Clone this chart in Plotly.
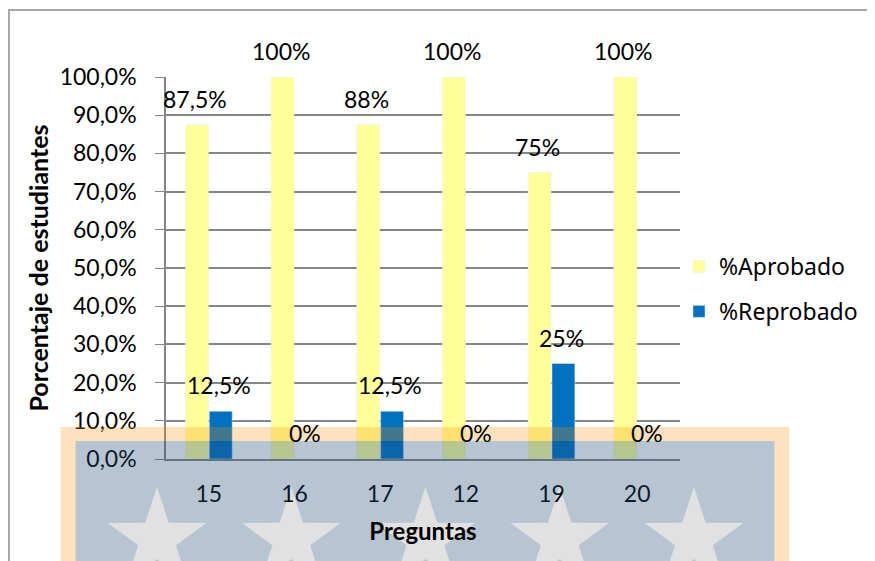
import math
import plotly.graph_objects as go

preguntas = ["15", "16", "17", "12", "19", "20"]
aprobado = [87.5, 100, 87.5, 100, 75, 100]
reprobado = [12.5, 0, 12.5, 0, 25, 0]
etiquetas_aprobado = ["87,5%", "100%", "88%", "100%", "75%", "100%"]
etiquetas_reprobado = ["12,5%", "0%", "12,5%", "0%", "25%", "0%"]

# la pagina html deja 8px de margen, asi que la figura es algo mas chica
OFF = 8
W, H = 875 - OFF, 561 - OFF
L, R, T, B = 166 - OFF, 683 - OFF, 77 - OFF, 459 - OFF  # area del grafico


def px(x, y):
    """pixeles de pantalla -> coordenadas paper"""
    x, y = x - OFF, y - OFF
    return (x - L) / (R - L), (B - y) / (B - T)


def rect_path(x0, y0, x1, y1):
    a, b = px(x0, y0)
    c, d = px(x1, y1)
    return f"M{a},{b} L{c},{b} L{c},{d} L{a},{d} Z "


def star_path(cx, cy, r_out=52, r_in=20):
    pts = []
    for i in range(10):
        r = r_out if i % 2 == 0 else r_in
        ang = -math.pi / 2 + i * math.pi / 5
        pts.append(px(cx + r * math.cos(ang), cy + r * math.sin(ang)))
    return "M" + " L".join(f"{a},{b}" for a, b in pts) + " Z "


fuente = "Lato, Carlito, sans-serif"

fig = go.Figure()
fig.add_trace(go.Bar(
    x=preguntas, y=aprobado, name="%Aprobado",
    marker_color="#FFFF99", legendgroup="a"
))
fig.add_trace(go.Bar(
    x=preguntas, y=reprobado, name="%Reprobado",
    marker_color="#0070C0", legendgroup="b"
))

# etiquetas de datos (x = indice de la categoria)
anots = []
for i in range(len(preguntas)):
    anots.append(dict(x=i, y=aprobado[i], text=etiquetas_aprobado[i], xshift=-14,
                      yshift=26, yanchor="middle", showarrow=False))
    anots.append(dict(x=i, y=reprobado[i], text=etiquetas_reprobado[i], xshift=10,
                      yshift=26, yanchor="middle", showarrow=False))

estrellas = [157, 292, 427, 562, 697]
BOT = 561 + 20
shapes = []
# marco del grafico
x0, y0 = px(8, 10)
x1, y1 = px(900, 600)
shapes.append(dict(type="rect", xref="paper", yref="paper", x0=x0, y0=y0, x1=x1, y1=y1,
                   line=dict(color="#A6A6A6", width=2), layer="below"))
# marca de agua
for cx in estrellas:
    shapes.append(dict(type="path", xref="paper", yref="paper", path=star_path(cx, 539),
                       fillcolor="#E1E1E1", line=dict(width=0), layer="below"))
shapes.append(dict(type="path", xref="paper", yref="paper",
                   path=rect_path(60, 427, 793, BOT) + rect_path(75, 441, 778, BOT),
                   fillcolor="rgba(247,143,0,0.26)", line=dict(width=0), layer="above",
                   fillrule="evenodd"))
shapes.append(dict(type="path", xref="paper", yref="paper",
                   path=rect_path(75, 441, 778, BOT) + "".join(star_path(c, 539) for c in estrellas),
                   fillcolor="rgba(37,79,121,0.33)", line=dict(width=0), layer="above",
                   fillrule="evenodd"))

fig.update_layout(
    width=W, height=H,
    margin=dict(l=L, r=W - R, t=T, b=H - B),
    paper_bgcolor="white", plot_bgcolor="rgba(0,0,0,0)",
    font=dict(family=fuente, size=23, color="black"),
    separators=",.",
    barmode="group", bargap=0.443, bargroupgap=0.04,
    annotations=anots,
    shapes=shapes,
    legend=dict(x=px(682, 0)[0], y=0.445, xanchor="left", yanchor="middle",
                font=dict(family="Noto Sans, sans-serif", size=23),
                tracegroupgap=12, bgcolor="rgba(0,0,0,0)"),
    xaxis=dict(
        type="category", range=[-0.5, len(preguntas) - 0.5],
        title=dict(text="<b>Preguntas</b>", standoff=17, font=dict(size=24)),
        showline=True, linecolor="#868686", linewidth=1.5,
        ticks="", ticklabelstandoff=14, showgrid=False,
    ),
    yaxis=dict(
        title=dict(text="<b>Porcentaje de estudiantes</b>", standoff=4, font=dict(size=25)),
        range=[0, 100], dtick=10, tickformat=".1f", ticksuffix="%",
        showline=True, linecolor="#868686", linewidth=1.5,
        ticks="outside", ticklen=9, tickcolor="#868686",
        ticklabelstandoff=14,
        showgrid=True, gridcolor="#868686", gridwidth=1.5,
    ),
)

fig.write_html("out.html")
